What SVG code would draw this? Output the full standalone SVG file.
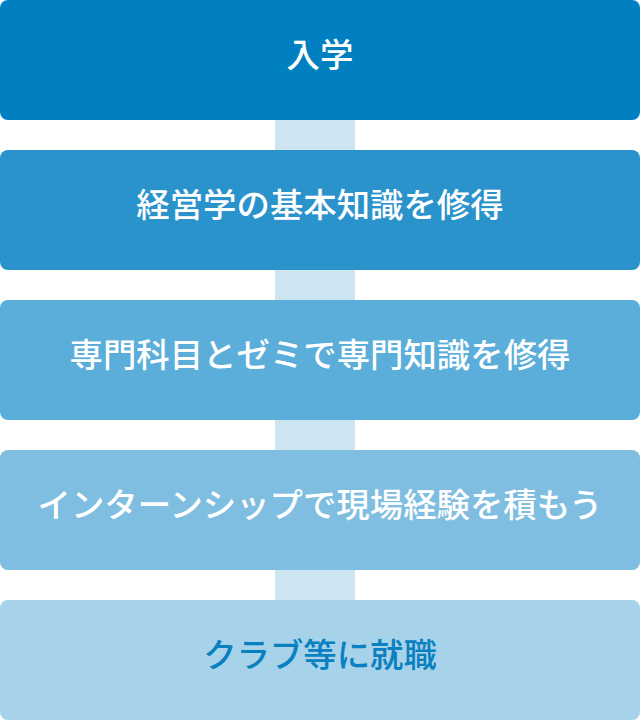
<svg xmlns="http://www.w3.org/2000/svg" width="640" height="720" viewBox="0 0 640 720">
<style>
.t{font-family:"Noto Sans CJK JP","Noto Sans",sans-serif;font-size:33.4px;font-weight:500;text-anchor:middle;fill:#ffffff}
.dark{fill:#0a80c0}
.con{fill:#cde5f1}
</style>
<rect width="640" height="720" fill="#ffffff"/>
<g id="connectors">
<rect class="con" x="275" y="120" width="80" height="30"/>
<rect class="con" x="275" y="270" width="80" height="30"/>
<rect class="con" x="275" y="420" width="80" height="30"/>
<rect class="con" x="275" y="570" width="80" height="30"/>
</g>
<g id="n1"><rect x="0" y="0" width="640" height="120" rx="8" fill="#0080c0"/><text class="t" x="320" y="67">入学</text></g>
<g id="n2"><rect x="0" y="150" width="640" height="120" rx="8" fill="#2a93cc"/><text class="t" x="320" y="217">経営学の基本知識を修得</text></g>
<g id="n3"><rect x="0" y="300" width="640" height="120" rx="8" fill="#5aaed9"/><text class="t" x="320" y="367">専門科目とゼミで専門知識を修得</text></g>
<g id="n4"><rect x="0" y="450" width="640" height="120" rx="8" fill="#80bee1"/><text class="t" x="320" y="517">インターンシップで現場経験を積もう</text></g>
<g id="n5"><rect x="0" y="600" width="640" height="120" rx="8" fill="#a6d3ea"/><text class="t dark" x="320" y="667">クラブ等に就職</text></g>
</svg>
